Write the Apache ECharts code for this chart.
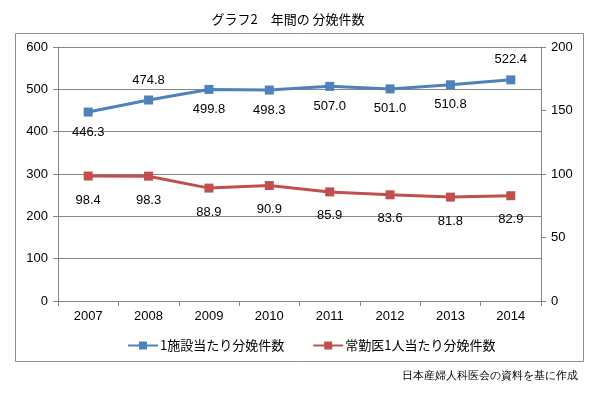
<!DOCTYPE html>
<html>
<head>
<meta charset="utf-8">
<script src="https://cdn.jsdelivr.net/npm/echarts@6/dist/echarts.min.js"></script>
<style>
  html, body { margin: 0; padding: 0; background: #fff; }
  #chart { width: 600px; height: 396px; }
</style>
</head>
<body>
<div id="chart"></div>
<script>
const years = ['2007', '2008', '2009', '2010', '2011', '2012', '2013', '2014'];
const perFacility = [446.3, 474.8, 499.8, 498.3, 507.0, 501.0, 510.8, 522.4];
const perDoctor = [98.4, 98.3, 88.9, 90.9, 85.9, 83.6, 81.8, 82.9];
// label above (true) or below the point for the blue line
const facilityLabelAbove = [false, true, false, false, false, false, false, true];

const font = '"Noto Sans CJK JP", "Liberation Sans", sans-serif';
const numFont = '"Liberation Sans", Arial, sans-serif';
const chart = echarts.init(document.getElementById('chart'));

chart.setOption({
    animation: false,
    textStyle: { fontFamily: font },
    title: {
        text: 'グラフ2　年間の 分娩件数',
        left: 283, top: 8, textAlign: 'center',
        textStyle: { fontSize: 13, fontWeight: 'normal', color: '#000', fontFamily: font }
    },
    graphic: [
        { type: 'rect', shape: { x: 15.5, y: 33.5, width: 568, height: 328 },
          style: { fill: 'none', stroke: '#8c8c8c', lineWidth: 1 } },
        { type: 'text', right: 22, top: 370,
          style: { text: '日本産婦人科医会の資料を基に作成', fontSize: 11, fill: '#000', font: '11px ' + font } }
    ],
    legend: {
        left: 122, top: 334,
        itemWidth: 30, itemHeight: 10, itemGap: 28,
        textStyle: { fontSize: 13, color: '#000', padding: [0, 0, 0, -3] },
        data: ['1施設当たり分娩件数', '常勤医1人当たり分娩件数']
    },
    grid: { left: 58, right: 59, top: 47, bottom: 95 },
    xAxis: {
        type: 'category',
        data: years,
        axisLine: { lineStyle: { color: '#868686' } },
        axisTick: { show: true, lineStyle: { color: '#868686' } },
        axisLabel: { color: '#000', fontSize: 13, margin: 9, fontFamily: numFont }
    },
    yAxis: [
        {
            type: 'value', min: 0, max: 600, interval: 100,
            axisLine: { show: true, lineStyle: { color: '#868686' } },
            axisTick: { show: true, lineStyle: { color: '#868686' } },
            axisLabel: { color: '#000', fontSize: 13, margin: 10, fontFamily: numFont },
            splitLine: { lineStyle: { color: '#868686' } }
        },
        {
            type: 'value', min: 0, max: 200, interval: 50, position: 'right',
            axisLine: { show: true, lineStyle: { color: '#868686' } },
            axisTick: { show: true, lineStyle: { color: '#868686' } },
            axisLabel: { color: '#000', fontSize: 13, margin: 10, fontFamily: numFont },
            splitLine: { show: false }
        }
    ],
    series: [
        {
            name: '1施設当たり分娩件数',
            type: 'line',
            yAxisIndex: 0,
            data: perFacility.map((v, i) => ({
                value: v,
                label: { position: facilityLabelAbove[i] ? 'top' : 'bottom' }
            })),
            symbol: 'rect', symbolSize: 9,
            lineStyle: { color: '#4F81BD', width: 3 },
            itemStyle: { color: '#4F81BD' },
            label: {
                show: true, color: '#000', fontSize: 13, distance: 9, fontFamily: numFont,
                formatter: p => p.value.toFixed(1)
            }
        },
        {
            name: '常勤医1人当たり分娩件数',
            type: 'line',
            yAxisIndex: 1,
            data: perDoctor,
            symbol: 'rect', symbolSize: 9,
            lineStyle: { color: '#C0504D', width: 3 },
            itemStyle: { color: '#C0504D' },
            label: {
                show: true, position: 'bottom', color: '#000', fontSize: 13, distance: 13, fontFamily: numFont,
                formatter: p => p.value.toFixed(1)
            }
        }
    ]
});
</script>
</body>
</html>
